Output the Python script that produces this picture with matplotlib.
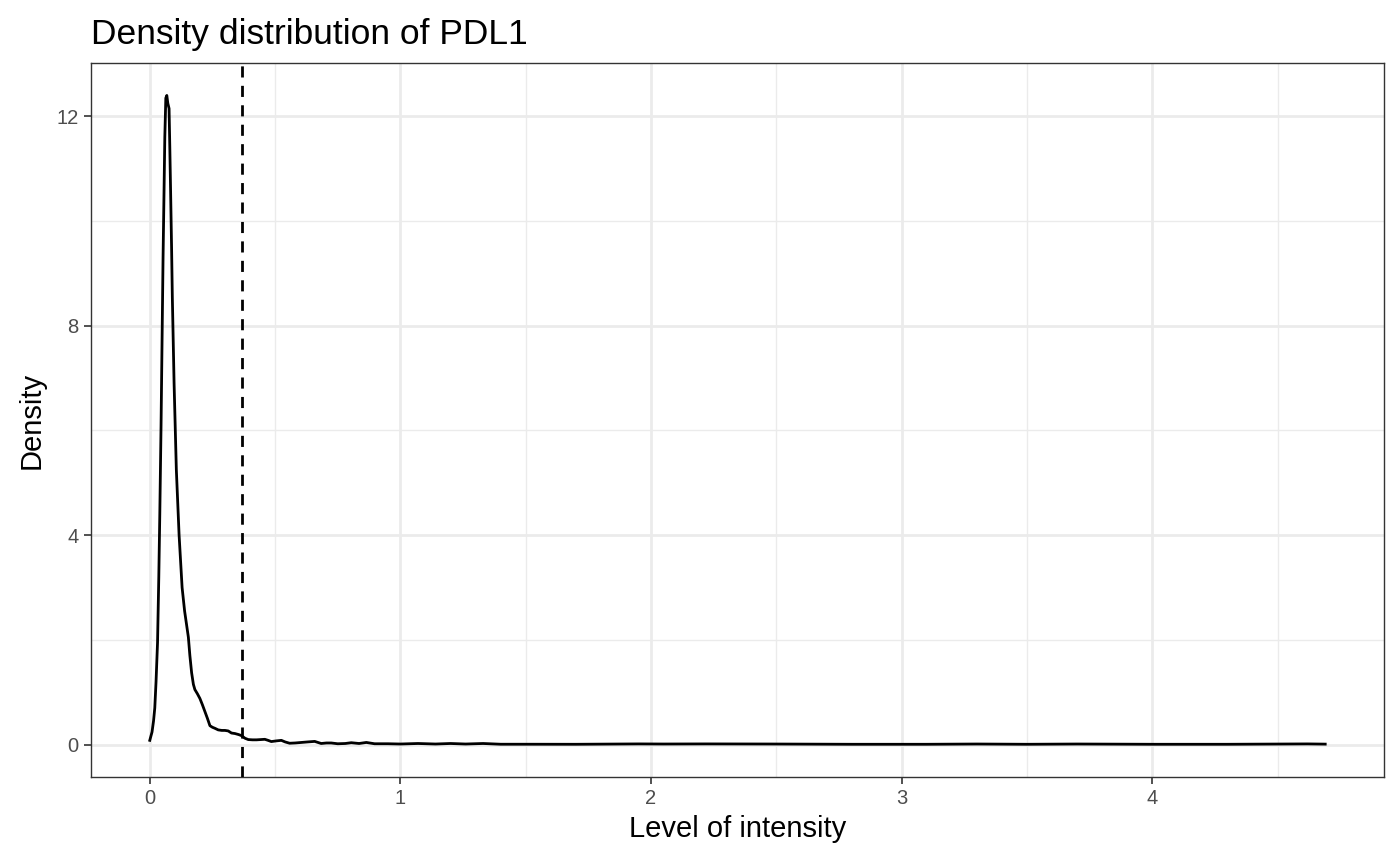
import matplotlib
matplotlib.use("Agg")
import matplotlib.pyplot as plt
from matplotlib.ticker import MultipleLocator

# Density curve of PDL1 intensity
intensity = [
    0.000, 0.009, 0.015, 0.020, 0.025, 0.031, 0.036, 0.040, 0.045, 0.049,
    0.053, 0.057, 0.060, 0.064, 0.068, 0.072, 0.077, 0.080, 0.083, 0.087,
    0.090, 0.097, 0.106, 0.117, 0.129, 0.139, 0.154, 0.160, 0.167, 0.174,
    0.180, 0.190, 0.200, 0.210, 0.220, 0.230, 0.240, 0.250, 0.260, 0.273,
    0.287, 0.300, 0.313, 0.326, 0.340, 0.355, 0.366, 0.380, 0.393, 0.410,
    0.426, 0.443, 0.459, 0.472, 0.485, 0.505, 0.525, 0.540, 0.558, 0.580,
    0.605, 0.630, 0.658, 0.684, 0.705, 0.724, 0.750, 0.780, 0.804, 0.835,
    0.864, 0.897, 0.950, 1.000, 1.070, 1.140, 1.200, 1.260, 1.330, 1.400,
    1.500, 1.700, 1.950, 2.050, 2.220, 2.480, 2.800, 3.100, 3.300, 3.500,
    3.700, 4.000, 4.300, 4.620, 4.690,
]
density = [
    0.08, 0.24, 0.45, 0.70, 1.20, 1.95, 3.20, 4.40, 6.10, 7.70,
    9.30, 10.60, 11.60, 12.35, 12.40, 12.25, 12.15, 11.40, 10.60, 9.50,
    8.55, 6.90, 5.25, 4.00, 3.00, 2.55, 2.05, 1.70, 1.37, 1.15,
    1.05, 0.97, 0.88, 0.76, 0.63, 0.50, 0.36, 0.33, 0.31, 0.28,
    0.27, 0.27, 0.26, 0.22, 0.21, 0.19, 0.17, 0.12, 0.095, 0.09,
    0.09, 0.095, 0.10, 0.08, 0.057, 0.07, 0.08, 0.05, 0.025, 0.03,
    0.04, 0.05, 0.06, 0.02, 0.03, 0.03, 0.015, 0.02, 0.035, 0.02,
    0.04, 0.015, 0.015, 0.01, 0.02, 0.01, 0.02, 0.01, 0.02, 0.006,
    0.006, 0.005, 0.012, 0.010, 0.012, 0.010, 0.005, 0.005, 0.010, 0.005,
    0.010, 0.005, 0.005, 0.012, 0.008,
]
threshold = 0.366

x_ticks = [0, 1, 2, 3, 4]
y_ticks = [0, 4, 8, 12]

plt.rcParams["font.family"] = ["Liberation Sans", "DejaVu Sans"]

fig = plt.figure(figsize=(14, 8.65), dpi=100)
ax = fig.add_axes([91 / 1400, 1 - 777 / 865, (1384 - 91) / 1400, (777 - 63) / 865])

ax.plot(intensity, density, color="black", lw=2.0, solid_joinstyle="round", zorder=3)
ax.axvline(threshold, color="black", lw=2.0, linestyle=(0, (4, 3)), zorder=3)

# ggplot-style expansion of 5% on both axes
xmin, xmax = min(intensity), max(intensity)
ymin, ymax = 0, max(density)
xpad = (xmax - xmin) * 0.05
ypad = (ymax - ymin) * 0.05
ax.set_xlim(xmin - xpad, xmax + xpad)
ax.set_ylim(ymin - ypad, ymax + ypad)

ax.set_xticks(x_ticks)
ax.set_yticks(y_ticks)
ax.xaxis.set_minor_locator(MultipleLocator(0.5))
ax.yaxis.set_minor_locator(MultipleLocator(2))

ax.grid(which="major", color="#EBEBEB", lw=2.0, zorder=0)
ax.grid(which="minor", color="#EBEBEB", lw=1.0, zorder=0)
ax.set_axisbelow(True)

for side in ax.spines.values():
    side.set_color("#333333")
    side.set_linewidth(1.0)

ax.tick_params(which="major", length=5, width=1.2, color="#333333",
               labelsize=14.5, labelcolor="#4D4D4D", pad=4)
ax.tick_params(which="minor", length=0)

ax.set_xlabel("Level of intensity", fontsize=21, labelpad=5)
ax.set_ylabel("Density", fontsize=21, labelpad=8)
ax.set_title("Density distribution of PDL1", fontsize=25.5, loc="left", pad=14)

fig.savefig("out.png", dpi=100)
